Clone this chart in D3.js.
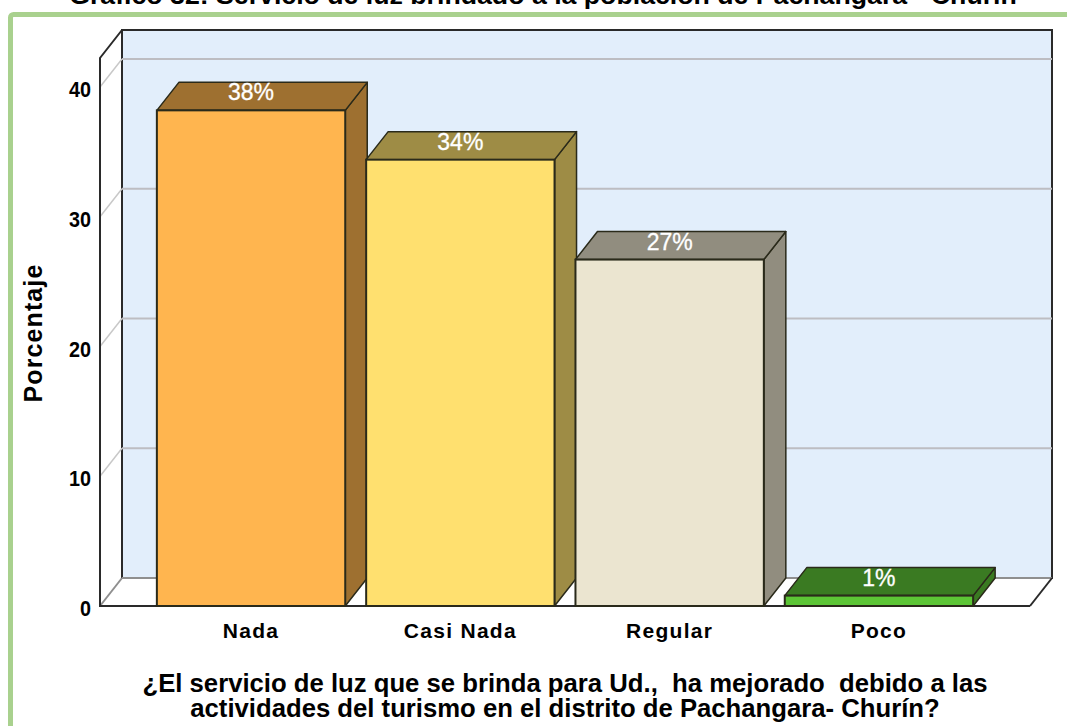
<!DOCTYPE html>
<html>
<head>
<meta charset="utf-8">
<script src="https://cdn.jsdelivr.net/npm/d3@7"></script>
<style>
  html, body { margin: 0; padding: 0; background: #fff; overflow: hidden; }
  text { font-family: "Liberation Sans", Arial, sans-serif; }
</style>
</head>
<body>
<svg id="canvas"></svg>
<script>
const width = 1067;
const height = 726;

// Dati
const categories = ["Nada", "Casi Nada", "Regular", "Poco"];
const values = [38.2, 34.4, 26.7, 0.8];
const barLabels = ["38%", "34%", "27%", "1%"];
const yTicks = [0, 10, 20, 30, 40];
const frontColors = ["#ffb54f", "#ffe06f", "#ebe5d0", "#5cc535"];
const darkColors = ["#9e7030", "#9e8c45", "#918d7f", "#3a7a22"];

const yTitle = "Porcentaje";
const xTitleLines = [
  "¿El servicio de luz que se brinda para Ud.,  ha mejorado  debido a las",
  "actividades del turismo en el distrito de Pachangara- Churín?"
];
const chartTitle = "Gráfico 32: Servicio de luz brindado a la población de Pachangara - Churín";

// Profondita' 3D
const depthX = 22;
const depthY = 28;

const x = d3.scaleBand()
  .domain(categories)
  .range([146.4, 983.6])
  .paddingInner(0.1)
  .paddingOuter(0.05);

const y = d3.scaleLinear()
  .domain([0, 40])
  .range([606, 87]);

const plotLeft = 100;
const plotRight = 1030;
const plotTop = 58;

const svg = d3.select("#canvas")
  .attr("width", width)
  .attr("height", height)
  .style("display", "block");

const poly = pts => pts.map(p => p.join(",")).join(" ");

// Titolo tagliato in alto, come nell'originale
svg.append("text")
  .attr("x", 543)
  .attr("y", 4)
  .attr("text-anchor", "middle")
  .attr("font-size", 26.7)
  .attr("font-weight", "bold")
  .text(chartTitle);

// Cornice verde
svg.append("rect")
  .attr("x", 10.5)
  .attr("y", 14.5)
  .attr("width", 1080)
  .attr("height", 760)
  .attr("rx", 3)
  .attr("fill", "#fff")
  .attr("stroke", "#a9d18e")
  .attr("stroke-width", 5);

// Parete di fondo
svg.append("rect")
  .attr("x", plotLeft + depthX)
  .attr("y", plotTop - depthY)
  .attr("width", plotRight - plotLeft)
  .attr("height", y(0) - plotTop)
  .attr("fill", "#e2eefb")
  .attr("stroke", "#2a2a2a")
  .attr("stroke-width", 2);

// Griglia sulla parete e sul lato
svg.selectAll(".grid-back")
  .data(yTicks.filter(d => d > 0))
  .enter()
  .append("line")
    .attr("class", "grid-back")
    .attr("x1", plotLeft + depthX)
    .attr("x2", plotRight + depthX)
    .attr("y1", d => y(d) - depthY)
    .attr("y2", d => y(d) - depthY)
    .attr("stroke", "#bdbdc2")
    .attr("stroke-width", 2);

svg.selectAll(".grid-side")
  .data(yTicks.filter(d => d > 0))
  .enter()
  .append("line")
    .attr("class", "grid-side")
    .attr("x1", plotLeft)
    .attr("x2", plotLeft + depthX)
    .attr("y1", d => y(d))
    .attr("y2", d => y(d) - depthY)
    .attr("stroke", "#c8c8c8")
    .attr("stroke-width", 1.5);

// Pavimento
svg.append("polygon")
  .attr("points", poly([
    [plotLeft, y(0)],
    [plotLeft + depthX, y(0) - depthY],
    [plotRight + depthX, y(0) - depthY],
    [plotRight, y(0)]
  ]))
  .attr("fill", "#fff");

svg.append("line")
  .attr("x1", plotLeft + depthX).attr("x2", plotRight + depthX)
  .attr("y1", y(0) - depthY).attr("y2", y(0) - depthY)
  .attr("stroke", "#8f8f8f").attr("stroke-width", 2);

svg.append("line")
  .attr("x1", plotLeft).attr("x2", plotLeft + depthX)
  .attr("y1", y(0)).attr("y2", y(0) - depthY)
  .attr("stroke", "#8f8f8f").attr("stroke-width", 2);

svg.append("line")
  .attr("x1", plotRight).attr("x2", plotRight + depthX)
  .attr("y1", y(0)).attr("y2", y(0) - depthY)
  .attr("stroke", "#2a2a2a").attr("stroke-width", 2);

// Bordi frontali
svg.append("path")
  .attr("d", `M${plotLeft + depthX},${plotTop - depthY}L${plotLeft},${plotTop}V${y(0)}H${plotRight}`)
  .attr("fill", "none")
  .attr("stroke", "#2a2a2a")
  .attr("stroke-width", 2);

// Barre
const bars = svg.selectAll(".bar")
  .data(categories.map((c, i) => ({ cat: c, val: values[i], label: barLabels[i], i })))
  .enter()
  .append("g")
    .attr("class", "bar");

bars.append("polygon") // lato
  .attr("points", d => {
    const r = x(d.cat) + x.bandwidth();
    return poly([[r, y(d.val)], [r + depthX, y(d.val) - depthY], [r + depthX, y(0) - depthY], [r, y(0)]]);
  })
  .attr("fill", d => darkColors[d.i])
  .attr("stroke", "#2a2a1a")
  .attr("stroke-width", 1.5)
  .attr("stroke-linejoin", "round");

bars.append("polygon") // sopra
  .attr("points", d => {
    const l = x(d.cat);
    const r = l + x.bandwidth();
    const t = y(d.val);
    return poly([[l, t], [l + depthX, t - depthY], [r + depthX, t - depthY], [r, t]]);
  })
  .attr("fill", d => darkColors[d.i])
  .attr("stroke", "#2a2a1a")
  .attr("stroke-width", 1.5)
  .attr("stroke-linejoin", "round");

bars.append("rect") // fronte
  .attr("x", d => x(d.cat))
  .attr("y", d => y(d.val))
  .attr("width", x.bandwidth())
  .attr("height", d => y(0) - y(d.val))
  .attr("fill", d => frontColors[d.i])
  .attr("stroke", "#2a2a1a")
  .attr("stroke-width", 2);

bars.append("text")
  .attr("x", d => x(d.cat) + x.bandwidth() / 2)
  .attr("y", d => y(d.val) - 10)
  .attr("text-anchor", "middle")
  .attr("font-size", 23)
  .attr("fill", "#fff")
  .attr("stroke", "#fff")
  .attr("stroke-width", 0.3)
  .text(d => d.label);

// Etichette asse Y
svg.selectAll(".y-label")
  .data(yTicks)
  .enter()
  .append("text")
    .attr("class", "y-label")
    .attr("x", 91)
    .attr("y", d => y(d) + 10)
    .attr("text-anchor", "end")
    .attr("font-size", 22)
    .attr("font-weight", "bold")
    .attr("textLength", d => String(d).length * 11)
    .attr("lengthAdjust", "spacingAndGlyphs")
    .text(d => d);

// Etichette asse X
svg.selectAll(".x-label")
  .data(categories)
  .enter()
  .append("text")
    .attr("class", "x-label")
    .attr("x", d => x(d) + x.bandwidth() / 2)
    .attr("y", 638)
    .attr("text-anchor", "middle")
    .attr("font-size", 21)
    .attr("font-weight", "bold")
    .attr("letter-spacing", 1.3)
    .text(d => d);

// Titolo asse Y
svg.append("text")
  .attr("transform", "translate(42,333) rotate(-90)")
  .attr("text-anchor", "middle")
  .attr("font-size", 25)
  .attr("font-weight", "bold")
  .attr("letter-spacing", 1.1)
  .text(yTitle);

// Titolo asse X
svg.selectAll(".x-title")
  .data(xTitleLines)
  .enter()
  .append("text")
    .attr("class", "x-title")
    .attr("x", 565)
    .attr("y", (d, i) => 692 + i * 25)
    .attr("text-anchor", "middle")
    .attr("font-size", 25.7)
    .attr("font-weight", "bold")
    .attr("xml:space", "preserve")
    .style("white-space", "pre")
    .text(d => d);
</script>
</body>
</html>
